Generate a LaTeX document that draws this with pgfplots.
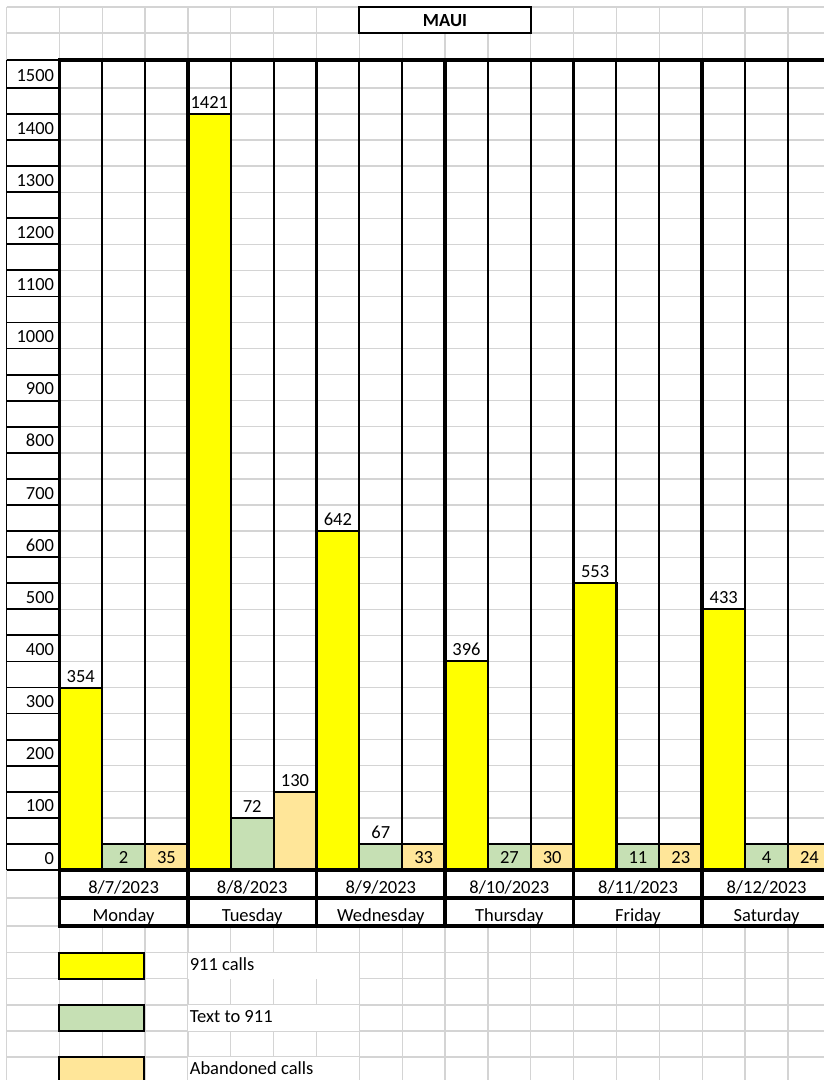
\documentclass[border=0pt]{standalone}
\usepackage{fontspec}
\setmainfont{Carlito}
\usepackage{pgfplots}
\pgfplotsset{compat=1.18}
\usepackage{pgfplotstable}

\definecolor{callc}{HTML}{FFFF00}
\definecolor{textc}{HTML}{C6E0B4}
\definecolor{abanc}{HTML}{FFE699}
\definecolor{gridc}{HTML}{D4D4D4}

\newcommand\fs{\fontsize{18.5}{22}\selectfont}

% x = column centre, h = height of the filled cells, v = printed value,
% off = label shift in pt (above the bar or inside the bottom cell)
\pgfplotstableread{
x    h    v    off
0.5  350  354  5.5
3.5  1450 1421 5.5
6.5  650  642  5.5
9.5  400  396  5.5
12.5 550  553  5.5
15.5 500  433  5.5
}\calls
\pgfplotstableread{
x    h    v    off
1.5  50   2    -20
4.5  100  72   5.5
7.5  50   67   5.5
10.5 50   27   -20
13.5 50   11   -20
16.5 50   4    -20
}\texts
\pgfplotstableread{
x    h    v    off
2.5  50   35   -20
5.5  150  130  5.5
8.5  50   33   -20
11.5 50   30   -20
14.5 50   23   -20
17.5 50   24   -20
}\aband

\def\xo{59.3}
\def\cw{42.86}
\def\rh{26.07}

\begin{document}
\fs%
\begin{tikzpicture}
\path[use as bounding box] (0,0) rectangle (824pt,1080pt);
\clip (0,0) rectangle (824pt,1080pt);

% sheet grid
\begin{scope}[x=1pt, y=-1pt, yshift=1080pt]
  \draw[gridc, line width=1.3pt] (6.5,7) -- (6.5,1080);
  \foreach \k in {0,...,18}
    \draw[gridc, line width=1.3pt] ({\xo+\k*\cw},7) -- ({\xo+\k*\cw},1080);
  \foreach \y in {7,33,60,898,926,952.7,978.7,1005,1031,1057}
    \draw[gridc, line width=1.3pt] (6.5,\y) -- (824,\y);
  \foreach \j in {0,...,30}
    \draw[gridc, line width=1.3pt] (6.5,{870-\j*\rh}) -- (824,{870-\j*\rh});
  % merged cells
  \fill[white] (\xo,870) rectangle (824,926);
  \fill[white] (187.9,952.7) rectangle (359.3,978.7);
  \fill[white] (187.9,1005) rectangle (359.3,1031);
  \fill[white] (187.9,1057) rectangle (359.3,1083);
  \draw[fill=white, line width=2pt] (359.3,7) rectangle (530.7,33);
  \node[anchor=base, font=\fs\bfseries] at (445,27) {MAUI};
\end{scope}

\begin{axis}[
  at={(59.3pt,210pt)}, anchor=south west,
  scale only axis, width=764.7pt, height=810pt,
  xmin=0, xmax=17.84, ymin=0, ymax=1553.5,
  axis line style={draw=none}, major tick length=0pt, tick style={draw=none},
  xtick={1.5,4.5,7.5,10.5,13.5,16.5},
  xticklabels={8/7/2023,8/8/2023,8/9/2023,8/10/2023,8/11/2023,8/12/2023},
  xticklabel style={anchor=base, inner sep=0pt, yshift=-23.5pt},
  extra x ticks={1.5,4.5,7.5,10.5,13.5,16.5},
  extra x tick labels={Monday,Tuesday,Wednesday,Thursday,Friday,Saturday},
  extra x tick style={xticklabel style={yshift=-27.5pt}},
  ytick={0,100,...,1500},
  yticklabel style={anchor=base east, inner sep=0pt, xshift=-5pt, yshift=6pt},
  /pgf/number format/assume math mode=true,
  /pgf/number format/1000 sep={},
  scaled y ticks=false,
  point meta=explicit,
  nodes near coords,
  visualization depends on={\thisrow{off}\as\laboff},
  every node near coord/.append style={anchor=base, inner sep=0pt, yshift=\laboff pt},
  legend cell align=left,
  legend style={at={(axis description cs:-0.0013,-0.10086)}, anchor=north west,
    draw=none, fill=none, inner sep=0pt, outer sep=0pt,
    row sep=24pt, column sep=44.5pt, nodes={inner sep=0pt}},
  cell/.style={ybar, bar width=1, bar shift=0pt, draw=black, line width=2pt,
    legend image code/.code={\draw[##1] (0pt,-13pt) rectangle (85pt,13pt);}},
]
\addplot[cell, fill=callc] table[x=x, y=h, meta=v] {\calls};
\addlegendentry{911 calls}
\addplot[cell, fill=textc] table[x=x, y=h, meta=v] {\texts};
\addlegendentry{Text to 911}
\addplot[cell, fill=abanc] table[x=x, y=h, meta=v] {\aband};
\addlegendentry{Abandoned calls}
\end{axis}

% black cell borders
\begin{scope}[x=1pt, y=-1pt, yshift=1080pt]
  \draw[line width=1.8pt] (6.5,60) -- (6.5,870);
  \foreach \j in {0,...,30}
    \draw[line width=1.8pt] (6.5,{870-\j*\rh}) -- (\xo,{870-\j*\rh});
  \draw[line width=1.8pt] (6.5,60) -- (\xo,60);
  \foreach \k in {1,2,4,5,7,8,10,11,13,14,16,17}
    \draw[line width=2pt] ({\xo+\k*\cw},60) -- ({\xo+\k*\cw},870);
  \foreach \k in {0,3,6,9,12,15}
    \draw[line width=3.5pt] ({\xo+\k*\cw},58.3) -- ({\xo+\k*\cw},927.7);
  \draw[line width=3.5pt] (\xo,60) -- (824,60);
  \draw[line width=3.5pt] (\xo,870) -- (824,870);
  \draw[line width=3.5pt] (\xo,898) -- (824,898);
  \draw[line width=3.5pt] (\xo,926) -- (824,926);
\end{scope}
\end{tikzpicture}
\end{document}
